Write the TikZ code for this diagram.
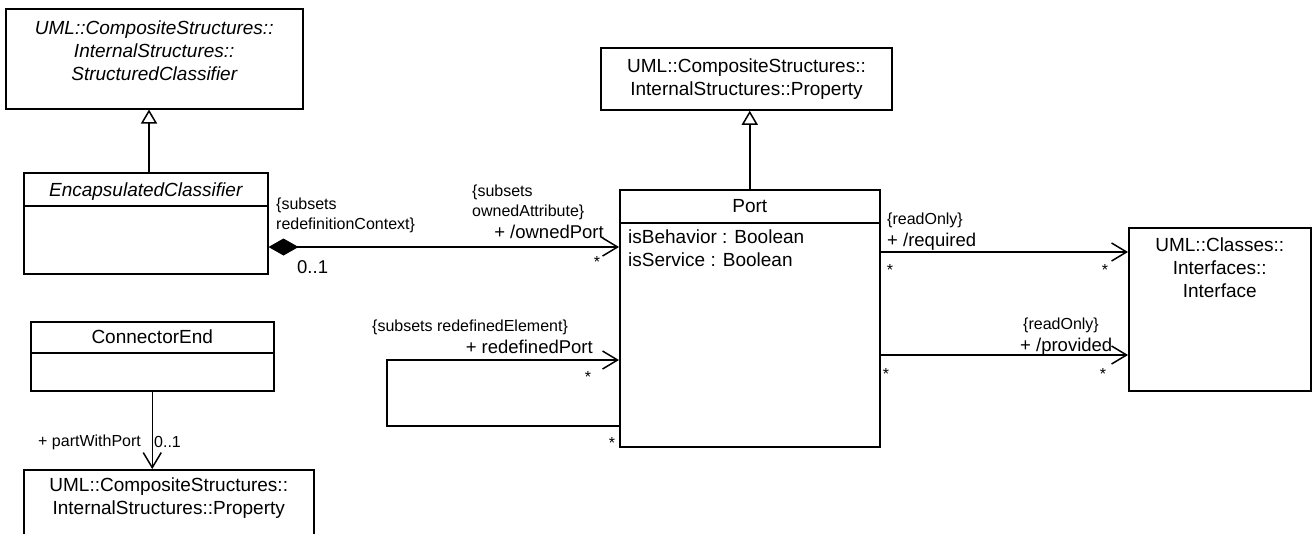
\documentclass[tikz,border=0pt]{standalone}
\usepackage{fontspec}
\setmainfont{Liberation Sans}
\usetikzlibrary{positioning,arrows.meta,calc}
\newcommand{\clsfont}{\fontsize{19}{23}\selectfont}
\newcommand{\rolefont}{\fontsize{18.5}{22}\selectfont}
\newcommand{\cstrfont}{\fontsize{16}{20}\selectfont}

\begin{document}
\begin{tikzpicture}[
  x=1pt,y=-1pt,
  cls/.style={draw,line width=1.5pt,fill=white,inner sep=0pt,anchor=north west},
  clsname/.style={inner sep=0pt,font=\clsfont,align=center},
  cstr/.style={inner sep=0pt,font=\cstrfont,align=left},
  role/.style={inner sep=0pt,font=\rolefont},
  mult/.style={inner sep=0pt,font=\cstrfont,anchor=base},
  sep/.style={line width=1.5pt},
  gen/.style={line width=1.5pt,-{Triangle[open,length=14pt,width=16pt]}},
  nav/.style={line width=1.5pt,-{Straight Barb[length=15pt,width=18pt]}},
  comp/.style={line width=1.5pt,{Diamond[length=30pt,width=17pt]}-{Straight Barb[length=15pt,width=18pt]}}
]
\path[use as bounding box] (0,0) rectangle (1316,533);
\clip (0,0) rectangle (1316,533);

% classes
\node[cls,minimum width=297pt,minimum height=100pt] (sclass) at (5,8) {};
\node[clsname,font=\clsfont\itshape,below=13pt of sclass.north] (sclassname) {UML::CompositeStructures::\\InternalStructures::\\StructuredClassifier};

\node[cls,minimum width=244pt,minimum height=101pt] (encls) at (23,172) {};
\node[clsname,font=\clsfont\itshape,below=11pt of encls.north] (enclsname) {EncapsulatedClassifier};
\draw[sep] ([yshift=-34pt]encls.north west) -- ([yshift=-34pt]encls.north east);

\node[cls,minimum width=291pt,minimum height=62pt,anchor=center,font=\clsfont,align=center] (proptop) at (746.5,79) {UML::CompositeStructures::\\InternalStructures::Property};

\node[cls,minimum width=260pt,minimum height=257pt] (port) at (619,189) {};
\node[clsname,below=10pt of port.north] (portname) {Port};
\draw[sep] ([yshift=-34pt]port.north west) -- ([yshift=-34pt]port.north east);
\node[clsname,align=left,anchor=north west] (portattr) at ([xshift=9pt,yshift=-41pt]port.north west) {isBehavior : Boolean\\isService : Boolean};

\node[cls,minimum width=182pt,minimum height=163pt] (iface) at (1128,227) {};
\node[clsname,below=11pt of iface.north] (ifacename) {UML::Classes::\\Interfaces::\\Interface};

\node[cls,minimum width=243pt,minimum height=69pt] (connend) at (30,321) {};
\node[clsname,below=9pt of connend.north] (connendname) {ConnectorEnd};
\draw[sep] ([yshift=-32pt]connend.north west) -- ([yshift=-32pt]connend.north east);

\node[cls,minimum width=290pt,minimum height=100pt] (propbot) at (23,469) {};
\node[clsname,below=9pt of propbot.north] (propbotname) {UML::CompositeStructures::\\InternalStructures::Property};

% relations
\draw[gen] (encls.north -| 149,0) -- (sclass.south -| 149,0);
\draw[gen] (port.north) -- (port.north |- proptop.south);
\draw[comp] (encls.east |- 0,247) -- (port.west |- 0,247);
\draw[nav] (port.west |- 0,426) -- ++(-232,0) |- (port.west |- 0,360);
\draw[nav] (port.east |- 0,252) -- (iface.west |- 0,252);
\draw[nav] (port.east |- 0,355) -- (iface.west |- 0,355);
\draw[nav] (connend.south) -- (connend.south |- propbot.north);

% end labels
\node[cstr,anchor=north west] (ctxlbl) at (276,198) {\{subsets\\redefinitionContext\}};
\node[role,anchor=north west] (ctxmult) at (297,260) {0..1};
\node[cstr,anchor=north west] (ownlbl) at (472,185) {\{subsets\\ownedAttribute\}};
\node[role,anchor=north east] (ownrole) at (604,225) {+ /ownedPort};
\node[mult] (ownmult) at (597,267) {*};
\node[cstr,anchor=north west] (redeflbl) at (372,320) {\{subsets redefinedElement\}};
\node[role,anchor=north east] (redefrole) at (593,340) {+ redefinedPort};
\node[mult] (redefmult) at (588,382) {*};
\node[mult] (redefmultb) at (612,448) {*};
\node[cstr,anchor=north west] (reqlbl) at (887,213) {\{readOnly\}};
\node[role,anchor=north west] (reqrole) at (887,233) {+ /required};
\node[mult] (reqmulta) at (890,275) {*};
\node[mult] (reqmultb) at (1105,275) {*};
\node[cstr,anchor=north west] (provlbl) at (1023,318) {\{readOnly\}};
\node[role,anchor=north west] (provrole) at (1020,338) {+ /provided};
\node[mult] (provmulta) at (886,379) {*};
\node[mult] (provmultb) at (1103,379) {*};
\node[cstr,anchor=north west] (pwplbl) at (38,435) {+ partWithPort};
\node[cstr,anchor=north west] (pwpmult) at (154,436) {0..1};
\end{tikzpicture}
\end{document}
